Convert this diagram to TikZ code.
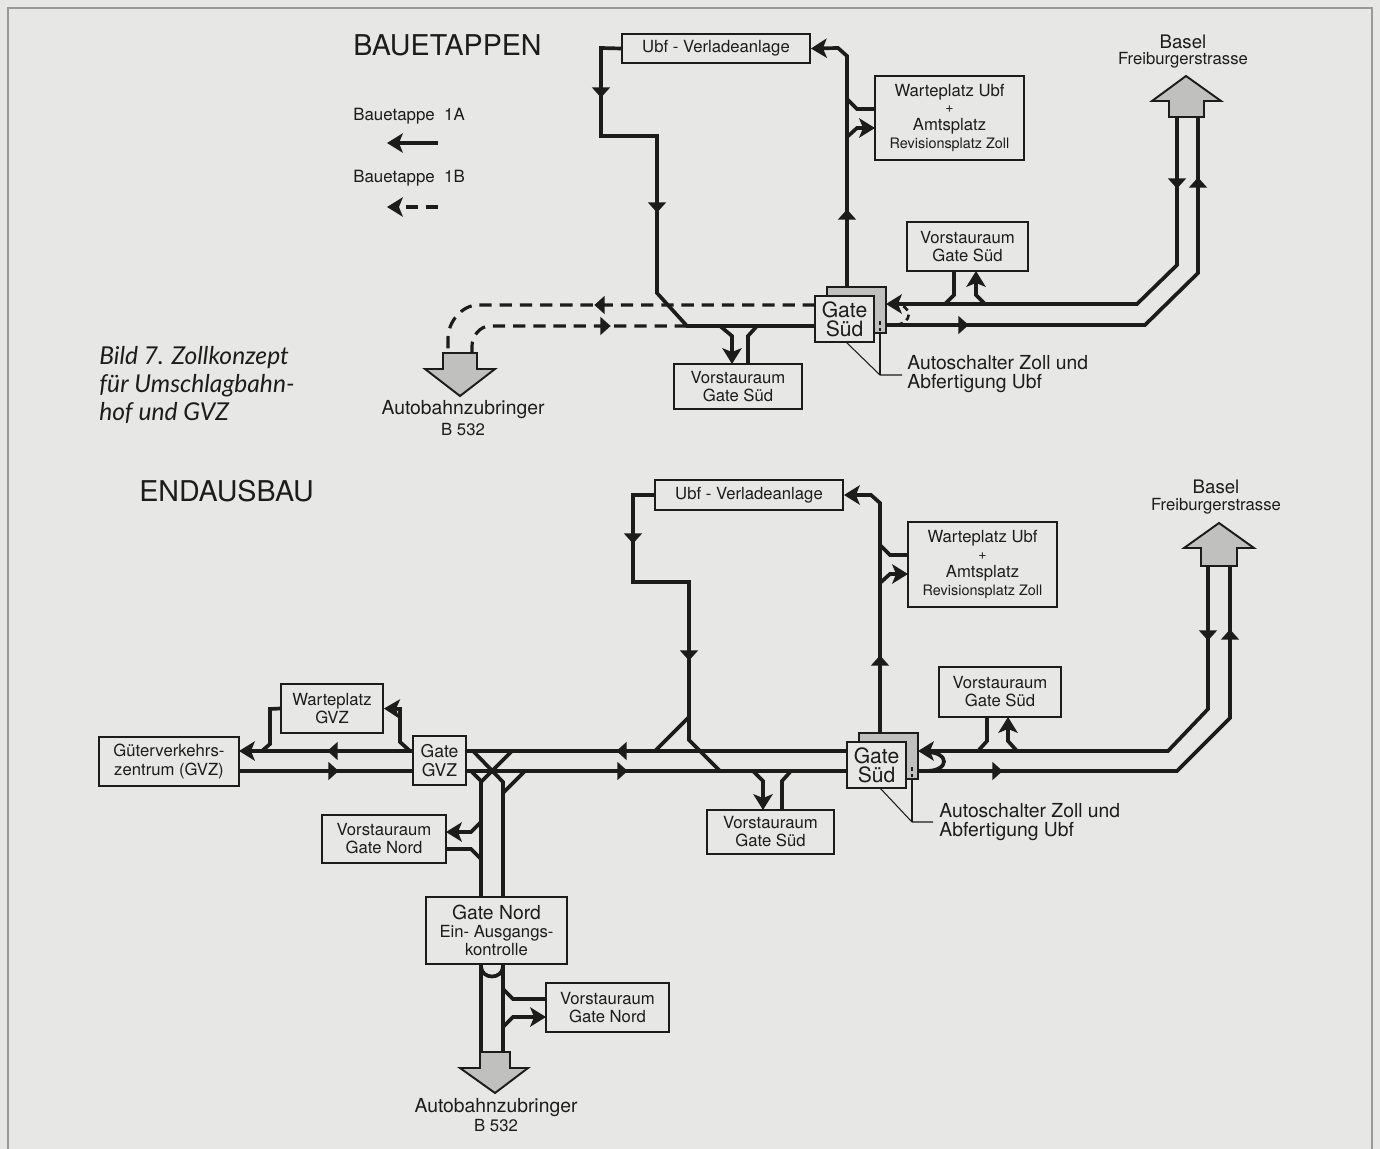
\documentclass[tikz,border=0pt]{standalone}
\usepackage{fontspec}
\setmainfont{TeX Gyre Heros}
\newfontfamily\capfont{Lato}
\usetikzlibrary{arrows.meta}
\definecolor{bg}{RGB}{231,231,229}
\definecolor{ink}{RGB}{28,28,28}
\definecolor{stip}{RGB}{192,192,190}
\tikzset{
 road/.style={line width=2.1pt, draw=ink, line join=miter},
 dashroad/.style={road, line width=1.8pt, dash pattern=on 7pt off 4.5pt},
 endtip/.style={-{Stealth[length=9pt,width=11pt,inset=2.2pt]}},
 box/.style={draw=ink, line width=1.1pt, fill=bg, inner sep=0pt, align=center, text=ink,
   font=\fontsize{9.5pt}{10.3pt}\selectfont},
 gatebox/.style={box, font=\fontsize{12pt}{10.8pt}\selectfont},
 lbl/.style={inner sep=0pt, align=center, text=ink},
 leader/.style={draw=ink, line width=0.6pt},
 shadearrow/.style={draw=ink, line width=1.1pt, fill=stip, line join=miter},
}
\newcommand\midtri[3]{\fill[ink,shift={(#1,#2)},rotate=#3] (3.2pt,0pt) -- (-2.6pt,5.2pt) -- (-2.6pt,-5.2pt) -- cycle;}
\newcommand\fsz[2]{\fontsize{#1pt}{#2pt}\selectfont}
\begin{document}
\begin{tikzpicture}[x=0.02cm,y=-0.02cm]
\useasboundingbox (0,0) rectangle (1380,1149);
\fill[bg] (0,0) rectangle (1380,1149);
\draw[black!40,line width=0.6pt] (8,1149) -- (8,8) -- (1372,8) -- (1372,1149);

% ================= BAUETAPPEN =================
\node[lbl,anchor=west,font=\fsz{16.3}{18}] (titleA) at (353,45) {BAUETAPPEN};
\node[lbl,anchor=west,font=\fsz{9.6}{11}] (leg1) at (353,116) {Bauetappe\ \ 1A};
\node[lbl,anchor=west,font=\fsz{9.6}{11}] (leg2) at (353,178) {Bauetappe\ \ 1B};
\coordinate (l1a) at (438,143); \coordinate (l1b) at (387,143);
\coordinate (l2a) at (438,207); \coordinate (l2b) at (387,207);
\draw[road,endtip] (l1a) -- (l1b);
\draw[dashroad,endtip] (l2a) -- (l2b);

\node[lbl,anchor=west,align=left,font=\capfont\itshape\fsz{14}{16.2}] (caption) at (99,385)
  {Bild 7. Zollkonzept\\für Umschlagbahn-\\hof und GVZ};

% boxes (upper)
\node[box,minimum width=3.76cm,minimum height=0.58cm] (ubfA) at (716,48.5) {Ubf - Verladeanlage};
\node[box,minimum width=2.98cm,minimum height=1.68cm] (wartA) at (949.5,118)
  {Warteplatz Ubf\\[-1pt]{\fsz{8}{9}+}\\Amtsplatz\\{\fsz{8.2}{9}Revisionsplatz Zoll}};
\node[box,minimum width=2.42cm,minimum height=0.98cm] (vsA1) at (967.5,246.5) {Vorstauraum\\Gate Süd};
\node[box,minimum width=2.56cm,minimum height=0.9cm] (vsA2) at (738,386.5) {Vorstauraum\\Gate Süd};
\draw[ink,line width=1.1pt,fill=stip] (827,287) rectangle (886,333);
\node[gatebox,minimum width=1.18cm,minimum height=0.92cm] (gateA) at (844.5,319) {Gate\\Süd};
\draw[leader] (880,321) -- (880,325) (880,328) -- (880,331);

% roads (upper)
\draw[road] (ubfA.west) -- (601,48) -- (601,136) -- (657,136) -- (657,293) -- (687,326) -- (815,326);
\midtri{601}{92}{270} \midtri{657}{207}{270}
\draw[road,endtip] (847,287) -- (847,56) -- (838,48) -- (ubfA.east);
\midtri{847}{215}{90}
\draw[road] (875,109) -- (857,109) -- (847,99);
\draw[road,endtip] (847,137) -- (857,128) -- (875,128);
\draw[road,endtip] (1177,117) -- (1177,265) -- (1137,304) -- (886,304);
\midtri{1177}{183}{270}
\draw[road] (886,325) -- (1145,325) -- (1198,273) -- (1198,117);
\midtri{963}{325}{0} \midtri{1198}{183}{90}
\draw[road] (954,271) -- (954,295) -- (945,304);
\draw[road,endtip] (985,304) -- (976,295) -- (976,271);
\draw[road,endtip] (720,326) -- (732,336) -- (732,364);
\draw[road] (748,364) -- (748,336) -- (757,326);
\draw[dashroad] (815,305) -- (478,305) .. controls (462,305) and (448,322) .. (448,338) -- (448,353);
\midtri{600}{305}{180}
\draw[dashroad] (687,326) -- (490,326) .. controls (480,326) and (472,336) .. (472,346) -- (472,353);
\midtri{605}{326}{0}
\draw[ink,line width=1.5pt,dash pattern=on 3.5pt off 2.5pt] (893,304) .. controls (914,304) and (914,325) .. (893,325);

% Autobahn / Basel (upper)
\draw[shadearrow] (443,353) -- (477,353) -- (477,369) -- (495,369) -- (460,396) -- (425,369) -- (443,369) -- cycle;
\node[lbl,font=\fsz{11}{12}] (autoA) at (463,410) {Autobahnzubringer};
\node[lbl,font=\fsz{9.5}{11}] (b532A) at (463,430) {B 532};
\draw[shadearrow] (1169,117) -- (1169,101) -- (1152,101) -- (1186,76) -- (1221,101) -- (1204,101) -- (1204,117) -- cycle;
\node[lbl,font=\fsz{10.6}{12}] (baselA) at (1183,42) {Basel};
\node[lbl,font=\fsz{9.5}{11}] (freiA) at (1183,60) {Freiburgerstrasse};

% leader (upper)
\coordinate (ldA) at (880,375);
\draw[leader] (846,342) -- (ldA) -- (902,375);
\draw[leader] (880,333) -- (ldA);
\node[lbl,anchor=west,align=left,font=\fsz{11}{10.8}] (autoschA) at (907,374) {Autoschalter Zoll und\\Abfertigung Ubf};

% ================= ENDAUSBAU =================
\node[lbl,anchor=west,font=\fsz{16.3}{18}] (titleB) at (139,491) {ENDAUSBAU};

\node[box,minimum width=3.76cm,minimum height=0.6cm] (ubfB) at (749,495) {Ubf - Verladeanlage};
\node[box,minimum width=2.98cm,minimum height=1.7cm] (wartB) at (982.5,564.5)
  {Warteplatz Ubf\\[-1pt]{\fsz{8}{9}+}\\Amtsplatz\\{\fsz{8.2}{9}Revisionsplatz Zoll}};
\node[box,minimum width=2.44cm,minimum height=1.0cm] (vsB1) at (1000,692) {Vorstauraum\\Gate Süd};
\node[box,minimum width=2.54cm,minimum height=0.88cm] (vsB2) at (770.5,832) {Vorstauraum\\Gate Süd};
\draw[ink,line width=1.1pt,fill=stip] (859,733) rectangle (918,779);
\node[gatebox,minimum width=1.18cm,minimum height=0.92cm] (gateB) at (876.5,765) {Gate\\Süd};
\draw[leader] (912,767) -- (912,771) (912,774) -- (912,777);
\node[box,minimum width=2.8cm,minimum height=0.98cm] (gvz) at (169,761.5) {Güterverkehrs-\\zentrum (GVZ)};
\node[box,minimum width=2.04cm,minimum height=0.98cm] (wartGVZ) at (332,708.5) {Warteplatz\\GVZ};
\node[box,minimum width=1.06cm,minimum height=0.98cm,font=\fsz{10}{10.5}] (gateGVZ) at (439.5,760.5) {Gate\\GVZ};
\node[box,minimum width=2.48cm,minimum height=0.96cm] (vsN1) at (384,839) {Vorstauraum\\Gate Nord};
\node[box,minimum width=2.82cm,minimum height=1.34cm] (gateN) at (496.5,930.5)
  {{\fsz{11}{10.5}Gate Nord}\\Ein- Ausgangs-\\kontrolle};
\node[box,minimum width=2.46cm,minimum height=0.98cm] (vsN2) at (607.5,1007.5) {Vorstauraum\\Gate Nord};

% roads (lower, right part)
\draw[road] (ubfB.west) -- (633,495) -- (633,582) -- (689,582) -- (689,740) -- (720,771);
\midtri{633}{538}{270} \midtri{689}{655}{270}
\draw[road] (689,717) -- (655,751);
\draw[road,endtip] (880,733) -- (880,503) -- (871,495) -- (ubfB.east);
\midtri{880}{661}{90}
\draw[road] (908,555) -- (890,555) -- (880,545);
\draw[road,endtip] (880,583) -- (890,574) -- (908,574);
\draw[road,endtip] (1208,566) -- (1208,709) -- (1168,751) -- (918,751);
\midtri{1208}{635}{270}
\draw[road] (918,771) -- (1177,771) -- (1230,718) -- (1230,566);
\midtri{997}{771}{0} \midtri{1230}{635}{90}
\draw[road] (926,752) .. controls (950,752) and (950,771) .. (926,771);
\draw[road] (987,717) -- (987,741) -- (978,751);
\draw[road,endtip] (1017,751) -- (1008,741) -- (1008,717);
\draw[road,endtip] (753,771) -- (763,781) -- (763,810);
\draw[road] (782,810) -- (782,781) -- (791,771);

% main lines
\draw[road] (847,751) -- (466,751);
\midtri{622}{751}{180}
\draw[road] (466,771) -- (847,771);
\midtri{622}{771}{0}
% GVZ
\draw[road,endtip] (413,751) -- (239,751);
\midtri{333}{751}{180}
\draw[road] (239,771) -- (413,771);
\midtri{333}{771}{0}
\draw[road] (wartGVZ.west) -- (270,709) -- (270,744) -- (262,751);
\draw[road,endtip] (410,751) -- (400,742) -- (400,709) -- (wartGVZ.east);
% crossing and Gate Nord
\draw[road] (512,751) -- (481,782) -- (481,897);
\draw[road] (473,751) -- (503,782) -- (503,897);
\draw[road] (471,771) -- (481,781);
\draw[road] (525,771) -- (503,793);
\draw[road,endtip] (481,822) -- (471,832) -- (446,832);
\draw[road] (446,849) -- (471,849) -- (481,859);
\draw[road] (481,964) -- (481,1052);
\draw[road] (503,964) -- (503,1052);
\draw[road] (481,966) .. controls (481,980) and (503,980) .. (503,966);
\draw[road] (546,999) -- (513,999) -- (503,989);
\draw[road,endtip] (503,1027) -- (513,1017) -- (546,1017);

% Autobahn / Basel (lower)
\draw[shadearrow] (480,1052) -- (510,1052) -- (510,1068) -- (528,1068) -- (495,1093) -- (460,1068) -- (480,1068) -- cycle;
\node[lbl,font=\fsz{11}{12}] (autoB) at (496,1108) {Autobahnzubringer};
\node[lbl,font=\fsz{9.5}{11}] (b532B) at (496,1126) {B 532};
\draw[shadearrow] (1201,566) -- (1201,548) -- (1184,548) -- (1219,523) -- (1254,548) -- (1237,548) -- (1237,566) -- cycle;
\node[lbl,font=\fsz{10.6}{12}] (baselB) at (1216,487) {Basel};
\node[lbl,font=\fsz{9.5}{11}] (freiB) at (1216,506) {Freiburgerstrasse};

% leader (lower)
\coordinate (ldB) at (912,822);
\draw[leader] (880,788) -- (ldB) -- (933,822);
\draw[leader] (912,779) -- (ldB);
\node[lbl,anchor=west,align=left,font=\fsz{11}{10.8}] (autoschB) at (939,822) {Autoschalter Zoll und\\Abfertigung Ubf};
\end{tikzpicture}
\end{document}
